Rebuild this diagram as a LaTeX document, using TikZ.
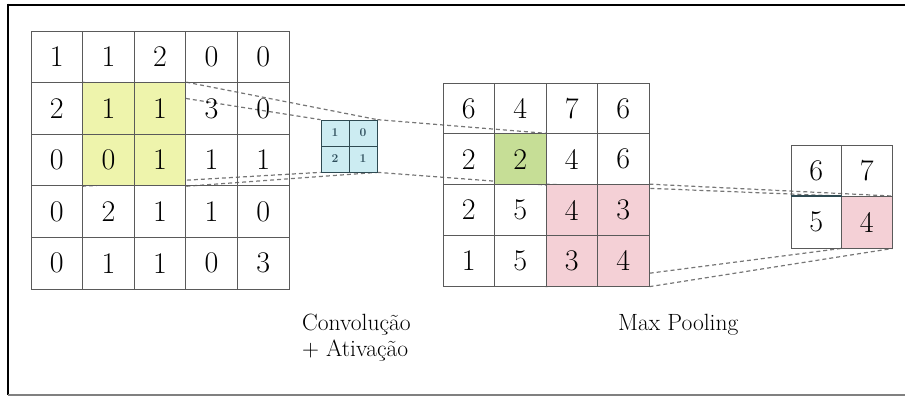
\documentclass[tikz,border=0pt]{standalone}
\usepackage{fontspec}
\pgfdeclarelayer{links}
\pgfdeclarelayer{fills}
\pgfsetlayers{links,fills,main}
\definecolor{gridline}{HTML}{5A5A5A}
\definecolor{linkgray}{HTML}{767676}
\definecolor{yellowfill}{RGB}{238,244,172}
\definecolor{greenfill}{RGB}{198,222,150}
\definecolor{pinkfill}{RGB}{244,208,214}
\definecolor{cyanfill}{RGB}{204,236,242}
\definecolor{kerneltext}{HTML}{2E4E5C}
\definecolor{kernelline}{HTML}{2E4A52}
\begin{document}
\begin{tikzpicture}[x=1pt,y=-1pt,
  cellbox/.style={draw=gridline, line width=0.9pt, inner sep=0pt,
    font=\rmfamily\fontsize{30}{30}\selectfont, text=black},
  kbox/.style={draw=kernelline, line width=0.7pt, inner sep=0pt,
    minimum width=28pt, minimum height=26pt,
    font=\rmfamily\fontsize{12}{12}\selectfont\bfseries, text=kerneltext},
  link/.style={draw=linkgray, line width=1.2pt, dash pattern=on 4pt off 3pt},
  caption/.style={anchor=base west, inner sep=0pt,
    font=\rmfamily\fontsize{23.5}{23.5}\selectfont, text=black}]

\useasboundingbox (0,0) rectangle (905,397);

% outer frame
\draw[black, line width=2.6pt] (8,5) -- (905,5);
\draw[black, line width=2.6pt] (8,3.7) -- (8,395);
\draw[gray, line width=1.2pt] (8,395) -- (905,395);

% input map 5x5
\foreach \v [count=\i from 0] in {1,1,2,0,0, 2,1,1,3,0, 0,0,1,1,1, 0,2,1,1,0, 0,1,1,0,3} {
  \pgfmathtruncatemacro{\r}{int(\i/5)}
  \pgfmathtruncatemacro{\c}{mod(\i,5)}
  \node[cellbox, minimum width=51.6pt, minimum height=51.6pt]
    (a-\r-\c) at ({31+51.6*\c+25.8},{31+51.6*\r+25.8}) {\v};
}

% kernel 2x2
\foreach \v [count=\i from 0] in {1,0,2,1} {
  \pgfmathtruncatemacro{\r}{int(\i/2)}
  \pgfmathtruncatemacro{\c}{mod(\i,2)}
  \node[kbox] (k-\r-\c) at ({321+28*\c+14},{120+26*\r+13}) {\v};
}

% feature map 4x4
\foreach \v [count=\i from 0] in {6,4,7,6, 2,2,4,6, 2,5,4,3, 1,5,3,4} {
  \pgfmathtruncatemacro{\r}{int(\i/4)}
  \pgfmathtruncatemacro{\c}{mod(\i,4)}
  \node[cellbox, minimum width=51.5pt, minimum height=50.8pt]
    (f-\r-\c) at ({443+51.5*\c+25.75},{83+50.8*\r+25.4}) {\v};
}

% pooled map 2x2
\foreach \v [count=\i from 0] in {6,7,5,4} {
  \pgfmathtruncatemacro{\r}{int(\i/2)}
  \pgfmathtruncatemacro{\c}{mod(\i,2)}
  \node[cellbox, minimum width=50.5pt, minimum height=51.5pt]
    (p-\r-\c) at ({791+50.5*\c+25.25},{145+51.5*\r+25.75}) {\v};
}
\draw[kernelline, line width=1.6pt] (p-1-0.north west) -- (p-1-0.north east);

% highlighted regions
\begin{pgfonlayer}{fills}
  \fill[yellowfill] (a-1-1.north west) rectangle (a-2-2.south east);
  \fill[cyanfill] (k-0-0.north west) rectangle (k-1-1.south east);
  \fill[greenfill] (f-1-1.north west) rectangle (f-1-1.south east);
  \fill[pinkfill] (f-2-2.north west) rectangle (f-3-3.south east);
  \fill[pinkfill] (p-1-1.north west) rectangle (p-1-1.south east);
\end{pgfonlayer}

% projection lines between the maps
\begin{pgfonlayer}{links}
  \draw[link] (a-1-1.north west) -- (k-0-0.north west);
  \draw[link] (a-1-2.north east) -- (k-0-1.north east);
  \draw[link] (a-2-1.south west) -- (k-1-0.south west);
  \draw[link] (a-2-2.south east) -- (k-1-1.south east);
  \draw[link] (k-0-1.north east) -- (f-1-1.north east);
  \draw[link] (k-1-1.south east) -- (f-1-1.south east);
  \draw[link] (f-2-2.north west) -- (p-1-1.north west);
  \draw[link] (f-2-3.north east) -- (p-1-1.north east);
  \draw[link] (f-3-2.south west) -- (p-1-1.south west);
  \draw[link] (f-3-3.south east) -- (p-1-1.south east);
\end{pgfonlayer}

% captions
\node[caption] (conv1) at (302,330) {Convolução};
\node[caption] (conv2) at (302,356.5) {+ Ativação};
\node[caption] (pool) at (618,330) {Max Pooling};
\end{tikzpicture}
\end{document}
